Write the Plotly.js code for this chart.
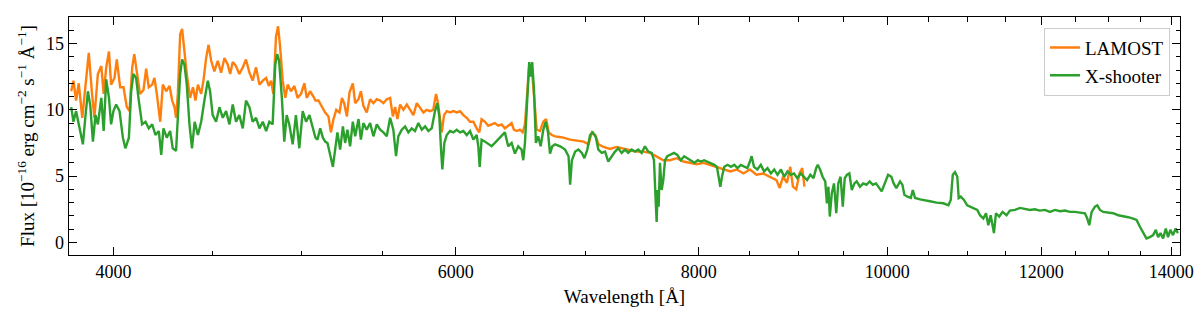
<!DOCTYPE html>
<html>
<head>
<meta charset="utf-8">
<script src="https://cdn.plot.ly/plotly-3.0.1.min.js"></script>
<style>html,body{margin:0;padding:0;background:#fff;}#chart{width:1200px;height:317px;}</style>
</head>
<body>
<div id="chart"></div>
<script>
// LAMOST spectrum (wavelength in Angstrom, flux in 1e-16 erg/cm2/s/A)
const lamostWave = [
3805,3815,3827,3839,3855,3870,3885,3900,3911,3927,
3943,3954,3966,3979,3989,4005,4016,4032,4048,4064,
4077,4090,4100,4112,4128,4145,4158,4171,4188,4199,
4211,4228,4241,4258,4275,4288,4300,4308,4317,4329,
4339,4351,4363,4380,4395,4408,4421,4438,4450,4464,
4477,4491,4508,4526,4544,4562,4580,4593,4607,4625,
4643,4662,4680,4699,4717,4736,4755,4774,4793,4808,
4821,4834,4849,4861,4872,4888,4903,4917,4936,4956,
4975,4995,5015,5029,5049,5069,5081,5099,5120,5140,
5160,5175,5191,5208,5228,5243,5257,5274,5290,5311,
5326,5347,5362,5378,5399,5421,5442,5464,5486,5507,
5529,5551,5569,5584,5599,5617,5639,5662,5684,5706,
5729,5751,5774,5797,5819,5842,5861,5875,5889,5901,
5917,5936,5959,5983,6006,6030,6054,6078,6102,6126,
6150,6169,6186,6211,6235,6260,6284,6309,6334,6359,
6384,6410,6427,6448,6473,6494,6512,6530,6545,6564,
6582,6603,6629,6655,6677,6698,6722,6749,6783,6815,
6870,6925,6980,7021,7049,7077,7105,7147,7202,7259,
7317,7374,7433,7492,7552,7596,7626,7671,7733,7794,
7856,7918,7981,8045,8109,8174,8238,8304,8369,8435,
8500,8566,8634,8702,8771,8805,8839,8881,8916,8944,
8979,9014,9043,9067];
const lamostFlux = [
11.4,12.2,10.7,12.0,9.4,11.7,14.3,11.2,9.4,12.7,
13.3,11.2,13.2,14.4,11.9,12.4,13.8,11.7,11.7,10.2,
9.9,13.2,14.2,12.9,11.2,11.5,13.1,11.7,11.9,12.4,
11.2,9.1,11.9,11.4,11.8,10.7,10.2,9.4,11.2,15.7,
16.1,14.4,12.7,10.9,11.7,10.7,11.9,11.2,12.2,13.9,
14.9,13.7,12.9,13.7,12.8,13.9,13.4,12.7,13.6,13.3,
12.7,13.2,13.8,12.8,12.2,13.2,11.9,12.2,12.4,11.8,
12.2,11.2,15.5,16.3,14.9,12.2,10.9,11.9,11.4,11.8,
10.9,11.2,12.0,10.9,11.4,11.0,10.7,10.7,10.2,9.8,
9.5,8.3,9.3,10.0,9.8,10.9,10.5,9.5,11.3,12.0,
10.5,10.8,11.4,10.3,9.8,10.8,10.5,10.8,10.7,10.5,
10.8,10.9,9.5,10.2,9.3,10.4,10.0,10.4,10.0,9.6,
10.5,10.2,9.8,10.0,9.9,10.0,11.2,10.5,9.3,8.3,
9.6,9.9,9.8,9.9,9.8,9.9,9.6,9.4,9.1,9.1,
8.6,8.3,9.3,9.1,8.8,8.9,9.0,8.8,8.9,8.6,
8.8,9.0,8.5,8.4,8.5,8.3,8.9,11.5,13.4,13.3,
11.3,8.5,8.4,9.1,9.3,8.3,8.1,8.0,7.95,7.9,
7.75,7.7,7.6,7.4,8.3,8.1,7.4,7.2,7.05,7.2,
7.05,6.95,6.85,6.85,6.75,6.55,6.35,6.2,6.2,6.35,
6.1,6.0,5.9,6.0,5.85,5.7,5.5,5.35,5.5,5.2,
5.5,5.1,5.2,4.95,4.7,4.1,4.95,4.5,5.7,4.2,
4.0,5.2,5.6,4.2];

// X-shooter spectrum
const xshooterWave = [
3805,3815,3827,3839,3858,3870,3881,3892,3904,3916,
3927,3943,3954,3966,3979,3989,4000,4013,4029,4045,
4057,4074,4085,4096,4109,4122,4138,4155,4171,4188,
4204,4221,4233,4244,4261,4278,4291,4308,4319,4329,
4339,4351,4363,4377,4390,4404,4421,4438,4455,4473,
4485,4499,4517,4535,4553,4571,4589,4607,4625,4643,
4662,4680,4699,4717,4736,4755,4774,4793,4811,4830,
4845,4856,4867,4883,4897,4911,4926,4946,4965,4985,
5005,5025,5045,5066,5081,5093,5110,5126,5140,5154,
5170,5187,5201,5215,5232,5249,5263,5277,5294,5311,
5326,5347,5362,5378,5399,5421,5442,5464,5486,5507,
5529,5551,5572,5590,5605,5628,5650,5672,5695,5717,
5740,5763,5786,5808,5831,5854,5870,5884,5896,5905,
5919,5936,5959,5983,6006,6030,6054,6078,6102,6126,
6150,6162,6172,6186,6211,6235,6260,6284,6309,6334,
6359,6384,6410,6435,6460,6486,6499,6512,6530,6545,
6556,6568,6582,6597,6615,6634,6655,6674,6692,6708,
6726,6749,6789,6829,6857,6870,6884,6911,6938,6966,
6987,7011,7034,7056,7082,7103,7132,7160,7187,7216,
7245,7273,7302,7331,7359,7389,7418,7447,7477,7506,
7536,7566,7587,7602,7611,7620,7629,7641,7656,7671,
7687,7708,7739,7769,7800,7831,7863,7894,7927,7959,
7991,8019,8051,8083,8116,8149,8174,8190,8207,8223,
8246,8278,8311,8344,8376,8409,8441,8474,8500,8517,
8541,8575,8610,8644,8679,8714,8748,8782,8818,8852,
8886,8921,8955,8990,9025,9060,9095,9130,9165,9193,
9211,9236,9264,9293,9311,9328,9343,9365,9390,9415,
9437,9463,9488,9510,9536,9562,9590,9620,9645,9683,
9720,9757,9795,9832,9869,9935,9973,10011,10050,10077,
10109,10154,10182,10206,10243,10284,10308,10336,10397,10458,
10519,10604,10688,10752,10782,10808,10837,10866,10884,10910,
10952,10994,11039,11082,11126,11162,11206,11242,11272,11304,
11348,11375,11419,11464,11518,11564,11634,11703,11773,11843,
11912,11982,12054,12126,12199,12271,12344,12416,12488,12563,
12639,12674,12704,12740,12790,12825,12866,12916,12991,13068,
13147,13226,13304,13382,13436,13487,13539,13594,13648,13702,
13746,13783,13822,13865,13909,13946,13985,14028,14072,14110];
const xshooterFlux = [
10.2,9.1,9.9,8.9,7.4,9.6,11.4,10.3,7.6,9.6,
8.9,10.9,8.4,12.3,10.9,8.9,9.9,10.4,9.9,7.9,
7.1,7.9,11.4,12.7,12.4,10.7,8.9,9.1,8.6,8.9,
8.1,8.4,6.6,8.6,7.9,8.4,7.1,6.9,10.4,12.7,
13.8,13.4,11.9,8.9,7.1,9.1,8.1,9.1,10.7,12.2,
11.4,9.6,9.1,10.2,9.4,9.9,8.9,10.4,9.1,9.6,
8.6,10.7,10.2,9.1,9.4,8.6,9.1,8.4,9.1,8.9,
13.4,14.2,13.7,10.9,7.6,9.6,8.9,7.4,9.6,7.1,
9.9,9.1,9.6,8.6,7.9,7.75,8.6,7.9,7.6,7.5,
6.5,5.7,7.0,8.3,7.0,8.75,7.5,8.5,7.25,9.1,
8.0,9.3,7.75,9.0,8.5,9.0,8.0,8.9,8.5,8.3,
8.0,9.4,8.5,6.5,8.0,8.5,8.75,8.3,8.6,8.4,
9.0,8.5,8.75,8.4,8.6,9.9,10.5,9.5,7.0,5.5,
7.5,8.1,8.4,8.3,8.5,8.3,8.4,8.1,8.4,7.75,
8.1,7.25,5.7,7.75,7.6,7.4,7.25,7.5,7.75,8.0,
8.3,7.25,7.5,6.7,7.25,7.0,6.2,7.5,11.5,13.6,
12.5,13.6,11.5,7.5,8.0,7.25,8.5,9.1,8.3,6.7,
7.25,7.4,7.25,7.0,6.5,4.35,6.2,6.85,7.0,6.75,
6.35,7.0,8.1,8.3,7.95,7.0,6.75,6.85,6.1,6.5,
6.85,7.1,6.75,7.0,6.75,7.0,6.85,7.0,6.75,7.25,
6.85,6.75,6.2,3.2,1.55,3.95,2.7,6.0,3.95,4.7,
6.2,6.5,6.6,6.75,6.6,6.2,6.5,6.35,6.2,6.0,
6.2,6.1,6.2,6.1,6.0,5.85,5.7,4.85,4.2,4.95,
5.7,5.85,5.7,5.85,5.6,5.85,5.7,5.6,6.1,6.5,
5.7,5.5,5.85,5.35,5.6,5.2,5.5,5.1,5.5,4.95,
5.35,5.1,5.2,4.85,5.2,4.95,4.7,5.1,4.85,5.6,
5.85,5.5,4.95,4.6,2.95,4.2,1.95,3.7,4.45,2.2,
4.45,4.95,2.7,4.85,5.1,5.2,3.95,4.45,4.6,4.2,
4.45,4.35,4.6,4.35,4.45,3.85,4.45,5.1,4.95,4.45,
4.1,4.6,4.35,3.6,3.45,3.35,3.95,3.35,3.25,3.2,
3.1,3.0,2.95,2.8,3.2,5.1,5.3,4.95,3.35,3.45,
3.2,2.8,2.7,2.6,2.45,2.05,1.8,2.2,1.3,2.05,
0.7,2.2,1.95,2.3,2.05,2.4,2.45,2.6,2.5,2.45,
2.5,2.4,2.45,2.3,2.45,2.35,2.4,2.3,2.3,2.25,
2.2,1.8,1.3,2.3,2.7,2.8,2.45,2.3,2.25,2.2,
2.05,2.0,1.9,1.8,1.7,1.2,0.7,0.3,0.4,0.55,
0.95,0.4,0.7,0.3,1.05,0.4,0.95,0.55,1.05,0.7];

const xTickVals = [4000, 6000, 8000, 10000, 12000, 14000];
const xTickText = ["4000", "6000", "8000", "10000", "12000", "14000"];
const xMinorVals = [4500,5000,5500,6500,7000,7500,8500,9000,9500,10500,11000,11500,12500,13000,13500];
const yTickVals = [0, 5, 10, 15];
const seriesNames = ["LAMOST", "X-shooter"];

const FONT = "'Liberation Serif', 'Times New Roman', serif";

const traces = [
  {x: lamostWave, y: lamostFlux, type: 'scatter', mode: 'lines', name: seriesNames[0],
   line: {color: '#ff7f0e', width: 2.4}},
  {x: xshooterWave, y: xshooterFlux, type: 'scatter', mode: 'lines', name: seriesNames[1],
   line: {color: '#2ca02c', width: 2.4}}
];

const layout = {
  width: 1200, height: 317,
  margin: {l: 69, r: 20, t: 17, b: 62, pad: 0},
  paper_bgcolor: '#ffffff', plot_bgcolor: '#ffffff',
  font: {family: FONT, size: 18, color: '#000'},
  showlegend: true,
  legend: {
    x: 0.991, xanchor: 'right', y: 0.955, yanchor: 'top',
    bgcolor: 'rgba(255,255,255,0.85)', bordercolor: '#cccccc', borderwidth: 1,
    font: {family: FONT, size: 19, color: '#000'},
    tracegroupgap: 0
  },
  xaxis: {
    type: 'log',
    range: [Math.log10(3795), Math.log10(14145)],
    tickmode: 'array', tickvals: xTickVals, ticktext: xTickText,
    ticks: 'inside', ticklen: 8, tickwidth: 1.2, tickcolor: '#000',
    minor: {tickmode: 'array', tickvals: xMinorVals, ticks: 'inside', ticklen: 4.5, tickwidth: 1, tickcolor: '#000', showgrid: false},
    showline: true, linecolor: '#000', linewidth: 1.3, mirror: 'ticks',
    showgrid: false, zeroline: false,
    tickfont: {family: FONT, size: 18, color: '#000'},
    title: {text: 'Wavelength [Å]', font: {family: FONT, size: 19, color: '#000'}, standoff: 8}
  },
  yaxis: {
    range: [-0.95, 17.0],
    tickmode: 'array', tickvals: yTickVals,
    ticks: 'inside', ticklen: 8, tickwidth: 1.2, tickcolor: '#000',
    minor: {dtick: 1, ticks: 'inside', ticklen: 4.5, tickwidth: 1, tickcolor: '#000', showgrid: false},
    showline: true, linecolor: '#000', linewidth: 1.3, mirror: 'ticks',
    showgrid: false, zeroline: false,
    tickfont: {family: FONT, size: 18, color: '#000'},
    title: {text: 'Flux [10<sup>−16</sup> erg cm<sup>−2</sup> s<sup>−1</sup> Å<sup>−1</sup>]', font: {family: FONT, size: 19, color: '#000'}, standoff: 6}
  }
};

Plotly.newPlot('chart', traces, layout, {staticPlot: true, displayModeBar: false});
</script>
</body>
</html>
